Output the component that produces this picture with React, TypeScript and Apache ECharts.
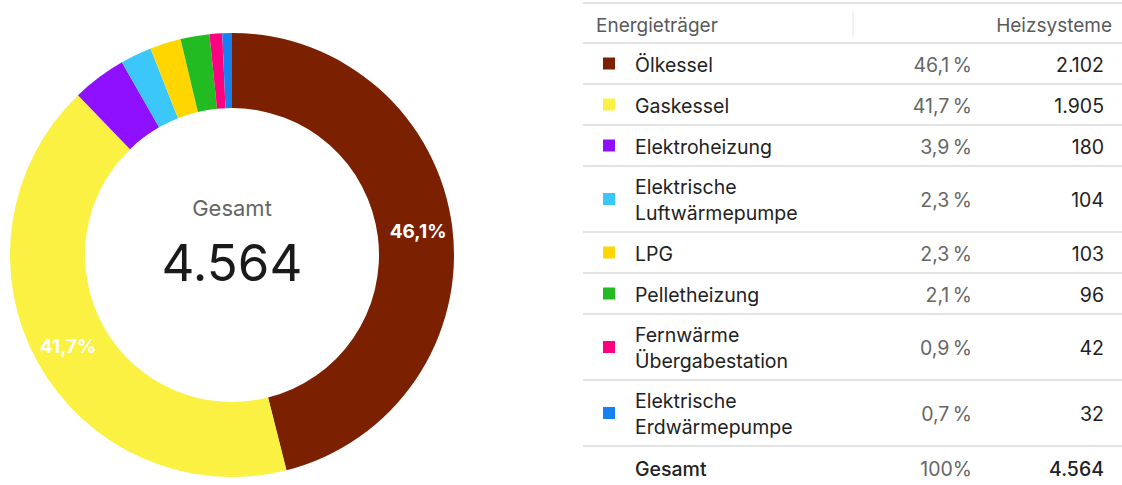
import React, { useEffect, useRef } from "react";
import * as echarts from "echarts";

const categories = [
  "Ölkessel",
  "Gaskessel",
  "Elektroheizung",
  "Elektrische\nLuftwärmepumpe",
  "LPG",
  "Pelletheizung",
  "Fernwärme\nÜbergabestation",
  "Elektrische\nErdwärmepumpe",
];
const values = [2102, 1905, 180, 104, 103, 96, 42, 32];
const shares = ["46,1", "41,7", "3,9", "2,3", "2,3", "2,1", "0,9", "0,7"];
const colors = ["#7B2102", "#FBF142", "#8F0FFF", "#3BC7FA", "#FFD600", "#22BB22", "#FF0080", "#1580F0"];
const totalLabel = "Gesamt";
const totalValue = "4.564";
const totalShare = "100%";
const headerLeft = "Energieträger";
const headerRight = "Heizsysteme";

const FONT = "Inter, 'Noto Sans', sans-serif";

function fmt(n: number) {
  return n.toLocaleString("de-DE");
}

export default function App() {
  const ref = useRef<HTMLDivElement>(null);
  useEffect(() => {
    if (!ref.current) return;
    const chart = echarts.init(ref.current, undefined, { renderer: "svg" });

    const graphic: any[] = [];
    const x0 = 583;
    const x1 = 1122;
    const lineColor = "#E3E3E3";
    const hline = (y: number) => ({
      type: "line",
      shape: { x1: x0, y1: y, x2: x1, y2: y },
      style: { stroke: lineColor, lineWidth: 2 },
      silent: true,
    });
    graphic.push(hline(3));
    graphic.push({
      type: "line",
      shape: { x1: 853, y1: 12, x2: 853, y2: 36 },
      style: { stroke: lineColor, lineWidth: 1 },
    });
    graphic.push({
      type: "text",
      style: { text: headerLeft, x: 596, y: 25, font: `19px ${FONT}`, fill: "#5a5a5a", verticalAlign: "middle" },
    });
    graphic.push({
      type: "text",
      style: { text: headerRight, x: 1112, y: 25, font: `19px ${FONT}`, fill: "#5a5a5a", align: "right", verticalAlign: "middle" },
    });
    let y = 43;
    graphic.push(hline(y));
    categories.forEach((name, i) => {
      const h = name.includes("\n") ? 66 : 41;
      const cy = y + h / 2 + 1;
      graphic.push({
        type: "rect",
        shape: { x: 603, y: cy - 7, width: 12, height: 12 },
        style: { fill: colors[i] },
      });
      graphic.push({
        type: "text",
        style: { text: name, x: 635, y: cy, font: `19.5px ${FONT}`, lineHeight: 26, fill: "#222", verticalAlign: "middle" },
      });
      graphic.push({
        type: "text",
        style: { text: shares[i] + "\u2009%", x: 972, y: cy, font: `19.5px ${FONT}`, fill: "#666", align: "right", verticalAlign: "middle" },
      });
      graphic.push({
        type: "text",
        style: { text: fmt(values[i]), x: 1104, y: cy, font: `19.5px ${FONT}`, fill: "#222", align: "right", verticalAlign: "middle" },
      });
      y += h;
      graphic.push(hline(y));
    });
    const gy = y + 23;
    graphic.push({
      type: "text",
      style: { text: totalLabel, x: 635, y: gy, font: `500 19.5px ${FONT}`, fill: "#222", verticalAlign: "middle" },
    });
    graphic.push({
      type: "text",
      style: { text: totalShare, x: 972, y: gy, font: `19.5px ${FONT}`, fill: "#666", align: "right", verticalAlign: "middle" },
    });
    graphic.push({
      type: "text",
      style: { text: totalValue, x: 1104, y: gy, font: `500 19.5px ${FONT}`, fill: "#222", align: "right", verticalAlign: "middle" },
    });
    // center texts
    graphic.push({
      type: "text",
      style: { text: totalLabel, x: 232, y: 208, font: `22px ${FONT}`, fill: "#666", align: "center", verticalAlign: "middle" },
    });
    graphic.push({
      type: "text",
      style: { text: totalValue, x: 232, y: 262, font: `51px ${FONT}`, fill: "#1a1a1a", align: "center", verticalAlign: "middle" },
    });

    chart.setOption({
      animation: false,
      backgroundColor: "#fff",
      series: [
        {
          type: "pie",
          center: [232, 255],
          radius: [147, 222],
          startAngle: 90,
          clockwise: true,
          avoidLabelOverlap: false,
          labelLine: { show: false },
          emphasis: { disabled: true },
          data: categories.map((c, i) => ({
            name: c,
            value: values[i],
            itemStyle: { color: colors[i] },
            label: {
              show: i < 2,
              position: "inside",
              formatter: shares[i] + "%",
              color: "#fff",
              fontSize: 19,
              fontWeight: "bold",
              fontFamily: FONT,
            },
          })),
        },
      ],
      graphic,
    });
    return () => chart.dispose();
  }, []);
  return (
    <div
      ref={ref}
      style={{ position: "fixed", left: 0, top: 0, width: 1122, height: 485 }}
    />
  );
}
